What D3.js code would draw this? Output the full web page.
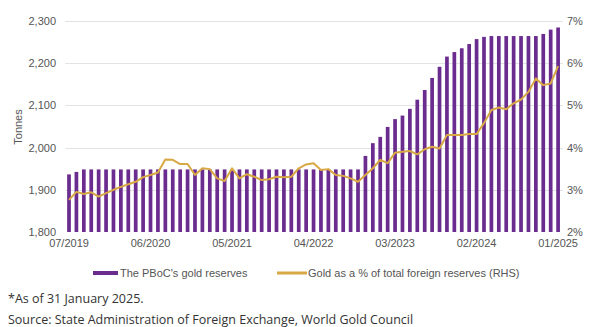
<!DOCTYPE html>
<html>
<head>
<meta charset="utf-8">
<script src="https://cdn.jsdelivr.net/npm/d3@7"></script>
<style>
  html, body { margin: 0; padding: 0; background: #fff; }
  svg { display: block; }
</style>
</head>
<body>
<svg id="chart" width="600" height="327"></svg>
<script>
// ---- Data ----
const months = [
  "07/2019","08/2019","09/2019","10/2019","11/2019","12/2019",
  "01/2020","02/2020","03/2020","04/2020","05/2020","06/2020","07/2020","08/2020","09/2020","10/2020","11/2020","12/2020",
  "01/2021","02/2021","03/2021","04/2021","05/2021","06/2021","07/2021","08/2021","09/2021","10/2021","11/2021","12/2021",
  "01/2022","02/2022","03/2022","04/2022","05/2022","06/2022","07/2022","08/2022","09/2022","10/2022","11/2022","12/2022",
  "01/2023","02/2023","03/2023","04/2023","05/2023","06/2023","07/2023","08/2023","09/2023","10/2023","11/2023","12/2023",
  "01/2024","02/2024","03/2024","04/2024","05/2024","06/2024","07/2024","08/2024","09/2024","10/2024","11/2024","12/2024",
  "01/2025"
];
const goldTonnes = [
  1936.5, 1942.4, 1948.3, 1948.3, 1948.3, 1948.3,
  1948.3, 1948.3, 1948.3, 1948.3, 1948.3, 1948.3, 1948.3, 1948.3, 1948.3, 1948.3, 1948.3, 1948.3,
  1948.3, 1948.3, 1948.3, 1948.3, 1948.3, 1948.3, 1948.3, 1948.3, 1948.3, 1948.3, 1948.3, 1948.3,
  1948.3, 1948.3, 1948.3, 1948.3, 1948.3, 1948.3, 1948.3, 1948.3, 1948.3, 1948.3, 1980.3, 2010.5,
  2025.4, 2049.0, 2067.5, 2075.9, 2091.8, 2113.5, 2136.5, 2165.1, 2191.5, 2215.7, 2226.4, 2235.4,
  2245.4, 2257.1, 2262.4, 2264.3, 2264.3, 2264.3, 2264.3, 2264.3, 2264.3, 2264.3, 2269.3, 2279.6,
  2284.6
];
const goldPct = [
  2.76, 2.95, 2.90, 2.94, 2.84, 2.92,
  3.00, 3.07, 3.13, 3.19, 3.30, 3.35, 3.41, 3.72, 3.71, 3.61, 3.61, 3.35,
  3.51, 3.49, 3.27, 3.21, 3.51, 3.27, 3.37, 3.31, 3.23, 3.25, 3.31, 3.30,
  3.31, 3.51, 3.60, 3.63, 3.47, 3.49, 3.35, 3.33, 3.27, 3.19, 3.35, 3.51,
  3.71, 3.63, 3.88, 3.90, 3.92, 3.84, 3.96, 4.02, 3.98, 4.30, 4.30, 4.30,
  4.32, 4.32, 4.58, 4.89, 4.95, 4.91, 5.05, 5.14, 5.32, 5.64, 5.48, 5.52,
  5.93
];
const leftTicks = [1800, 1900, 2000, 2100, 2200, 2300];
const rightTicks = [2, 3, 4, 5, 6, 7];
const xTickLabels = ["07/2019","06/2020","05/2021","04/2022","03/2023","02/2024","01/2025"];
const legendLabels = ["The PBoC's gold reserves", "Gold as a % of total foreign reserves (RHS)"];
const footnotes = ["*As of 31 January 2025.", "Source: State Administration of Foreign Exchange, World Gold Council"];

// ---- Layout ----
const svg = d3.select("#chart");
const plot = { left: 65.3, right: 561.8, top: 21, bottom: 232 };
const purple = "#6a2c8e";
const gold = "#d8a845";
const axisFont = "'Liberation Sans', Arial, sans-serif";
const textColor = "#555";

const x = d3.scaleBand().domain(months).range([plot.left, plot.right]).paddingInner(0.5).paddingOuter(0.25);
const yL = d3.scaleLinear().domain([1800, 2300]).range([plot.bottom, plot.top]);
const yR = d3.scaleLinear().domain([2, 7]).range([plot.bottom, plot.top]);

// gridlines
svg.append("g").selectAll("line").data(leftTicks.slice(1)).join("line")
  .attr("x1", plot.left).attr("x2", plot.right + 1)
  .attr("y1", d => Math.round(yL(d)) + 0.5).attr("y2", d => Math.round(yL(d)) + 0.5)
  .attr("stroke", "#e3e3e3").attr("stroke-width", 1);

// bars
svg.append("g").selectAll("rect").data(months).join("rect")
  .attr("x", d => x(d))
  .attr("width", x.bandwidth())
  .attr("y", (d, i) => yL(goldTonnes[i]))
  .attr("height", (d, i) => yL(1800) - yL(goldTonnes[i]))
  .attr("fill", purple);

// line
const line = d3.line()
  .x((d, i) => x(months[i]) + x.bandwidth() / 2)
  .y(d => yR(d));
svg.append("path").datum(goldPct)
  .attr("d", line)
  .attr("fill", "none")
  .attr("stroke", gold)
  .attr("stroke-width", 2)
  .attr("stroke-linejoin", "round");

// left axis
const axL = d3.axisLeft(yL).tickValues(leftTicks).tickFormat(d3.format(",")).tickSize(0).tickPadding(0);
const gL = svg.append("g").attr("transform", `translate(56,0)`).call(axL);
gL.select(".domain").remove();
gL.selectAll("text").attr("font-family", axisFont).attr("font-size", 11).attr("fill", textColor);

// right axis
const axR = d3.axisRight(yR).tickValues(rightTicks).tickFormat(d => d + "%").tickSize(0).tickPadding(0);
const gR = svg.append("g").attr("transform", `translate(567,0)`).call(axR);
gR.select(".domain").remove();
gR.selectAll("text").attr("font-family", axisFont).attr("font-size", 11).attr("fill", textColor);

// x axis
const axX = d3.axisBottom(x).tickValues(xTickLabels).tickSize(0).tickPadding(0);
const gX = svg.append("g").attr("transform", `translate(0,${plot.bottom + 7})`).call(axX);
gX.select(".domain").remove();
gX.selectAll("text").attr("font-family", axisFont).attr("font-size", 11).attr("fill", textColor);

// y title
svg.append("text")
  .attr("transform", "translate(22,127) rotate(-90)")
  .attr("text-anchor", "middle")
  .attr("font-family", axisFont).attr("font-size", 11).attr("fill", textColor)
  .text("Tonnes");

// legend
const lg = svg.append("g");
lg.append("rect").attr("x", 93).attr("y", 271).attr("width", 25).attr("height", 4).attr("fill", purple);
lg.append("text").attr("x", 120).attr("y", 277).attr("font-family", axisFont).attr("font-size", 11).attr("fill", textColor).text(legendLabels[0]);
lg.append("rect").attr("x", 277).attr("y", 271.5).attr("width", 30).attr("height", 3).attr("fill", gold);
lg.append("text").attr("x", 308).attr("y", 277).attr("font-family", axisFont).attr("font-size", 11).attr("fill", textColor).text(legendLabels[1]);

// footnotes
svg.append("g").selectAll("text").data(footnotes).join("text")
  .attr("x", 8).attr("y", (d, i) => 303 + i * 21)
  .attr("font-family", "'Open Sans', sans-serif").attr("font-size", 12.5).attr("fill", "#333")
  .text(d => d);
</script>
</body>
</html>
